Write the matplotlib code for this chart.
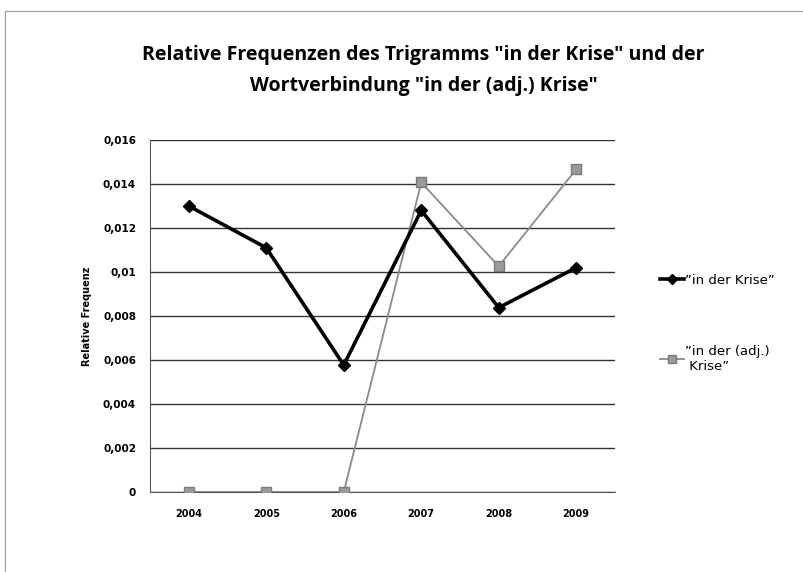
import matplotlib
matplotlib.use("Agg")
from matplotlib import pyplot as plt
from matplotlib.patches import Rectangle

years = ["2004", "2005", "2006", "2007", "2008", "2009"]
krise = [0.0130, 0.0111, 0.00577, 0.0128, 0.00838, 0.0102]
adj_krise = [0.0, 0.0, 0.0, 0.01407, 0.01026, 0.01467]
yticks = [0, 0.002, 0.004, 0.006, 0.008, 0.010, 0.012, 0.014, 0.016]
ytick_labels = ["0", "0,002", "0,004", "0,006", "0,008", "0,01", "0,012", "0,014", "0,016"]

fig = plt.figure(figsize=(8.04, 5.72), dpi=100)
fig.patches.append(Rectangle((5 / 804, -0.01), 1.0, 1 - 11 / 572 + 0.01,
                             transform=fig.transFigure, fill=False,
                             edgecolor="#9a9a9a", linewidth=0.8))

ax = fig.add_axes([150 / 804, 80 / 572, 465 / 804, 352 / 572])
x = list(range(len(years)))

ax.plot(x, adj_krise, color="#8a8a8a", linewidth=1.3, marker="s",
        markersize=7, markerfacecolor="#9a9a9a", markeredgecolor="#7a7a7a",
        label="\u201Din der (adj.)\n Krise\u201D", zorder=3)
ax.plot(x, krise, color="black", linewidth=2.6, marker="D",
        markersize=6.5, label="\u201Din der Krise\u201D", zorder=4)

ax.set_xlim(-0.5, 5.5)
ax.set_ylim(0, 0.016)
ax.set_yticks(yticks)
ax.set_yticklabels(ytick_labels, fontsize=7.5, fontweight="bold")
ax.set_xticks(x)
ax.set_xticklabels(years, fontsize=7, fontweight="bold")
ax.tick_params(axis="both", length=0, pad=12)
ax.tick_params(axis="y", pad=10)
ax.grid(axis="y", color="#333333", linewidth=1.0)
ax.set_axisbelow(True)
for s in ["top", "right"]:
    ax.spines[s].set_visible(False)
ax.spines["left"].set_color("#555555")
ax.spines["left"].set_linewidth(0.8)
ax.spines["bottom"].set_color("#555555")
ax.set_ylabel("Relative Frequenz", fontsize=7, fontweight="bold", labelpad=8)

fig.text(0.527, 1 - 55 / 572, "Relative Frequenzen des Trigramms \"in der Krise\" und der",
         ha="center", va="center", fontsize=14, fontweight="bold", family="Open Sans")
fig.text(0.527, 1 - 86 / 572, "Wortverbindung \"in der (adj.) Krise\"",
         ha="center", va="center", fontsize=14, fontweight="bold", family="Open Sans")

h, l = ax.get_legend_handles_labels()
fig.legend(h[::-1], l[::-1], loc="upper left", bbox_to_anchor=(648 / 804, 1 - 262 / 572),
           frameon=False, fontsize=9.5, handlelength=1.8, handletextpad=0.1,
           labelspacing=4.4, markerscale=0.8)

fig.savefig("out.png", dpi=100)
